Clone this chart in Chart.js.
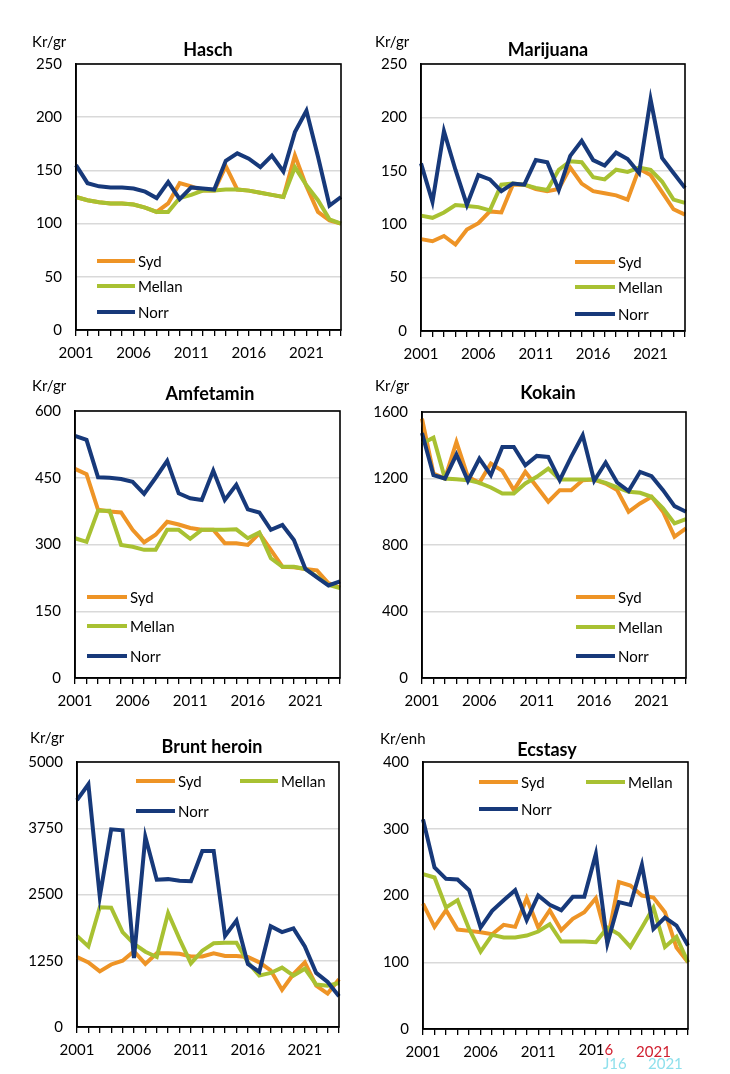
<!DOCTYPE html>
<html>
<head>
<meta charset="utf-8">
<script src="https://cdn.jsdelivr.net/npm/chart.js@4.4.1/dist/chart.umd.min.js"></script>
<style>
html,body{margin:0;padding:0;background:#fff;}
#wrap{position:relative;width:730px;height:1074px;overflow:hidden;background:#fff;}
canvas{position:absolute;}
</style>
</head>
<body>
<div id="wrap"></div>
<script>
// ---------- DATA ----------
const years = ['2001','2002','2003','2004','2005','2006','2007','2008','2009','2010','2011','2012',
               '2013','2014','2015','2016','2017','2018','2019','2020','2021','2022','2023','2024'];
const labeledYears = ['2001','2006','2011','2016','2021'];
const seriesNames = ['Syd','Mellan','Norr'];

const haschSyd    = [125,122,120,119,119,118,115,111,119,138,135,131,131,154,132,131,129,127,125,164,135,111,103,100];
const haschMellan = [125,122,120,119,119,118,115,111,111,124,127,131,131,132,132,131,129,127,125,153,136,122,104,100];
const haschNorr   = [155,138,135,134,134,133,130,124,139,123,134,133,132,159,166,161,153,164,149,186,206,163,117,125];

const mariSyd    = [86,84,89,81,95,101,112,111,137,137,133,131,133,153,138,131,129,127,123,152,146,130,114,109];
const mariMellan = [108,106,111,118,117,116,113,137,138,137,134,132,151,159,158,144,142,151,149,153,151,140,123,120];
const mariNorr   = [157,121,187,151,118,146,142,131,138,137,160,158,132,164,178,160,155,167,161,148,217,162,148,134];

const amfSyd    = [470,458,378,374,372,333,305,322,351,345,337,333,333,303,303,299,325,288,250,249,245,242,213,203];
const amfMellan = [314,306,376,376,299,295,288,288,333,333,313,333,333,333,334,314,327,269,250,250,245,228,209,202];
const amfNorr   = [544,535,451,450,447,441,414,450,488,415,404,400,466,400,434,379,372,333,344,310,245,226,208,217];

const kokSyd    = [1560,1230,1200,1420,1210,1174,1290,1246,1130,1240,1150,1060,1130,1130,1190,1194,1170,1130,1000,1050,1090,1000,850,900];
const kokMellan = [1410,1446,1200,1196,1190,1174,1146,1110,1110,1170,1210,1260,1194,1194,1194,1194,1174,1146,1120,1114,1090,1020,930,956];
const kokNorr   = [1474,1220,1200,1344,1186,1320,1220,1390,1390,1280,1336,1330,1190,1330,1460,1186,1296,1176,1124,1240,1214,1130,1034,1000];

const herSyd    = [1320,1220,1050,1180,1250,1430,1190,1390,1390,1380,1330,1330,1390,1340,1340,1320,1220,1070,700,1000,1220,780,630,900];
const herMellan = [1720,1520,2260,2250,1790,1570,1420,1320,2150,1660,1200,1440,1580,1590,1590,1220,970,1020,1120,970,1100,800,780,830];
const herNorr   = [4280,4580,2460,3730,3710,1300,3590,2780,2790,2760,2750,3320,3320,1720,2010,1190,1040,1900,1790,1860,1520,1020,850,580];

const ecsSyd    = [188,153,178,149,147,145,142,156,153,196,152,178,148,165,175,196,132,220,215,200,197,175,122,100];
const ecsMellan = [232,227,182,193,150,116,141,137,137,140,146,157,131,131,131,130,152,142,123,152,182,123,138,100];
const ecsNorr   = [314,242,225,224,208,152,177,193,208,163,200,186,178,198,198,262,128,190,186,246,150,167,155,125];

// y-axis ranges
const yMax  = [250, 250, 600, 1600, 5000, 400];
const yStep = [50, 50, 150, 400, 1250, 100];
const titles = ['Hasch','Marijuana','Amfetamin','Kokain','Brunt heroin','Ecstasy'];
const units  = ['Kr/gr','Kr/gr','Kr/gr','Kr/gr','Kr/gr','Kr/enh'];

// ---------- STYLE / LAYOUT ----------
const colors = ['#EE9426', '#A8C132', '#17397A'];
const FONT = "Lato, 'Open Sans', 'DejaVu Sans', sans-serif";
const TICK_LEN = 6, TICK_PAD = 8;

const panels = [
  {box:[0,0,365,360],   area:[76,64,341,330],  titleXY:[208,50], unitXY:[32,42],
   legend:[[97,135,261],[97,135,286],[97,135,312]], data:[haschSyd,haschMellan,haschNorr]},
  {box:[365,0,365,360], area:[421,64,685,331], titleXY:[548,50], unitXY:[375,42],
   legend:[[575,615,262],[575,615,287],[575,615,314]], data:[mariSyd,mariMellan,mariNorr]},
  {box:[0,360,365,354], area:[75,411,340,678], titleXY:[210,394], unitXY:[32,386],
   legend:[[87,127,597],[87,127,626],[87,127,656]], data:[amfSyd,amfMellan,amfNorr]},
  {box:[365,360,365,354], area:[422,412,686,678], titleXY:[548,393], unitXY:[375,386],
   legend:[[576,615,597],[576,615,627],[576,615,656]], data:[kokSyd,kokMellan,kokNorr]},
  {box:[0,714,365,360], area:[77,762,339,1027], titleXY:[212,747], unitXY:[30,738],
   legend:[[136,175,781],[240,278,781],[136,175,811]], data:[herSyd,herMellan,herNorr]},
  {box:[365,714,365,360], area:[423,762,688,1029], titleXY:[547,750], unitXY:[380,739],
   legend:[[479,518,782],[586,625,782],[479,518,809]], data:[ecsSyd,ecsMellan,ecsNorr], ghost:true}
];

const decorPlugin = {
  id: 'decor',
  afterDraw(chart, args, o) {
    const ctx = chart.ctx, a = chart.chartArea;
    ctx.save();
    // plot frame
    ctx.strokeStyle = '#000';
    ctx.lineWidth = 1.6;
    ctx.strokeRect(a.left, a.top, a.right - a.left, a.bottom - a.top);
    // title
    ctx.fillStyle = '#000';
    ctx.textBaseline = 'middle';
    ctx.textAlign = 'center';
    ctx.font = "bold 18px " + FONT;
    ctx.fillText(o.title, o.titleXY[0], o.titleXY[1]);
    // unit
    ctx.textAlign = 'left';
    ctx.font = "15px " + FONT;
    ctx.fillText(o.unit, o.unitXY[0], o.unitXY[1]);
    // legend
    o.legend.forEach((l, i) => {
      ctx.strokeStyle = colors[i];
      ctx.lineWidth = 4;
      ctx.lineCap = 'butt';
      ctx.beginPath();
      ctx.moveTo(l[0], l[2]);
      ctx.lineTo(l[1], l[2]);
      ctx.stroke();
      ctx.fillStyle = '#000';
      ctx.font = "15px " + FONT;
      ctx.fillText(seriesNames[i], l[1] + 3, l[2] + 1);
    });
    if (o.ghost) {
      // "2016" label with a red last digit, as in the source image
      const xs = chart.scales.x;
      const cx = xs.getPixelForTick(15);
      const ty = xs.top + TICK_LEN + TICK_PAD;
      ctx.font = "15px " + FONT;
      ctx.textBaseline = 'top';
      const full = ctx.measureText('2016').width;
      const head = ctx.measureText('201').width;
      const x0 = cx - full / 2;
      ctx.textAlign = 'left';
      ctx.fillStyle = '#000';
      ctx.fillText('201', x0, ty);
      ctx.fillStyle = '#d02030';
      ctx.fillText('6', x0 + head, ty);
      // faint cyan ghost text at the bottom
      ctx.fillStyle = '#8fe0ec';
      ctx.textBaseline = 'middle';
      ctx.fillText('J16', 238, 350);
      ctx.fillText('2021', 283, 350);
    }
    ctx.restore();
  }
};

Chart.defaults.font.family = FONT;
Chart.defaults.font.size = 15;
Chart.defaults.color = '#000';

const wrap = document.getElementById('wrap');

function build() {
  panels.forEach((p, k) => {
    const [bx, by, bw, bh] = p.box;
    const cv = document.createElement('canvas');
    cv.width = bw; cv.height = bh;
    cv.style.left = bx + 'px'; cv.style.top = by + 'px';
    cv.style.width = bw + 'px'; cv.style.height = bh + 'px';
    wrap.appendChild(cv);
    const yW = p.area[0] - bx;
    const padR = bx + bw - p.area[2];
    const padT = p.area[1] - by;
    const xH = by + bh - p.area[3];
    const loc = (x, y) => [x - bx, y - by];
    const legendLocal = p.legend.map(l => [l[0] - bx, l[1] - bx, l[2] - by]);

    new Chart(cv, {
      type: 'line',
      data: {
        labels: years,
        datasets: seriesNames.map((n, i) => ({
          label: n,
          data: p.data[i],
          borderColor: colors[i],
          backgroundColor: colors[i],
          borderWidth: 4,
          pointRadius: 0,
          tension: 0,
          fill: false,
          order: 3 - i
        }))
      },
      options: {
        responsive: false,
        animation: false,
        devicePixelRatio: 1,
        layout: { padding: { left: 0, top: padT, right: padR, bottom: 0 } },
        plugins: {
          legend: { display: false },
          title: { display: false },
          tooltip: { enabled: false },
          decor: {
            title: titles[k], unit: units[k],
            titleXY: loc(p.titleXY[0], p.titleXY[1]),
            unitXY: loc(p.unitXY[0], p.unitXY[1]),
            legend: legendLocal, ghost: !!p.ghost
          }
        },
        scales: {
          x: {
            type: 'category',
            offset: false,
            afterFit: s => { s.height = xH; },
            grid: { display: true, drawOnChartArea: false, drawTicks: true, tickLength: TICK_LEN,
                    color: '#000', lineWidth: 1.3 },
            border: { color: '#000', width: 1.6 },
            ticks: {
              autoSkip: false, maxRotation: 0, minRotation: 0, padding: TICK_PAD,
              font: { size: 15 },
              color: (c) => (p.ghost && c.index === 20) ? '#d02030' : '#000',
              callback: function (v, i) {
                const lab = this.getLabelForValue(v);
                if (p.ghost && lab === '2016') return '';
                return labeledYears.includes(lab) ? lab : '';
              }
            }
          },
          y: {
            min: 0, max: yMax[k],
            afterFit: s => { s.width = yW; },
            grid: { color: '#d9d9d9', lineWidth: 1.5, drawTicks: false, tickLength: 0 },
            border: { color: '#000', width: 1.6 },
            ticks: { stepSize: yStep[k], padding: 14, font: { size: 15 },
                     callback: v => String(v) }
          }
        }
      },
      plugins: [decorPlugin]
    });
  });
}

if (document.fonts && document.fonts.load) {
  Promise.all([document.fonts.load("15px Lato"), document.fonts.load("bold 18px Lato")])
    .then(build, build);
} else {
  build();
}
</script>
</body>
</html>
